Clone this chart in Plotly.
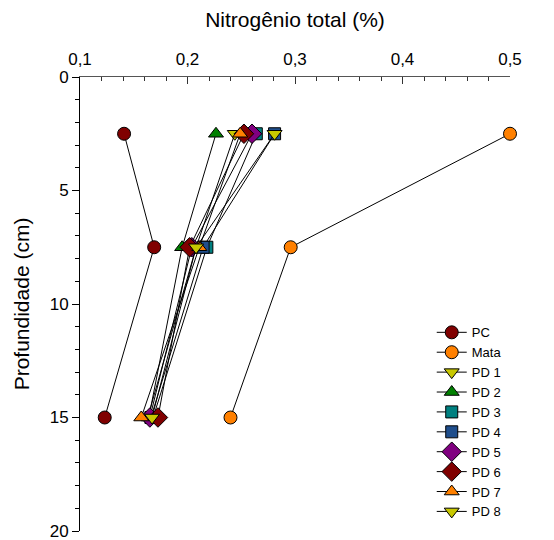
import plotly.graph_objects as go

# Soil depth of each sampling layer (cm)
depth = [2.5, 7.5, 15]

# Total nitrogen (%) per land-use system, by depth
names = ["PC", "Mata", "PD 1", "PD 2", "PD 3", "PD 4", "PD 5", "PD 6", "PD 7", "PD 8"]
pc = [0.141, 0.169, 0.123]
mata = [0.500, 0.296, 0.240]
pd1 = [0.244, 0.208, 0.163]
pd2 = [0.2265, 0.195, 0.164]
pd3 = [0.264, 0.218, 0.168]
pd4 = [0.281, 0.2145, 0.166]
pd5 = [0.260, 0.204, 0.165]
pd6 = [0.2525, 0.202, 0.1725]
pd7 = [0.249, 0.211, 0.157]
pd8 = [0.281, 0.208, 0.167]
values = [pc, mata, pd1, pd2, pd3, pd4, pd5, pd6, pd7, pd8]

symbols = ["circle", "circle", "triangle-down", "triangle-up", "square", "square",
           "diamond", "diamond", "triangle-up", "triangle-down"]
colors = ["#800000", "#FF8000", "#C8C800", "#008000", "#008080", "#1F4E8C",
          "#800080", "#800000", "#FF8000", "#C8C800"]
sizes = [13, 13, 13, 13, 12, 12, 15, 15, 13, 13]

fig = go.Figure()
for name, vals, sym, col, sz in zip(names, values, symbols, colors, sizes):
    fig.add_trace(go.Scatter(
        x=vals, y=depth, name=name, mode="lines+markers",
        line=dict(color="black", width=1),
        marker=dict(symbol=sym, size=sz, color=col,
                    line=dict(color="black", width=1)),
        cliponaxis=False,
    ))

font = "Liberation Sans, Arial, sans-serif"
fig.update_layout(
    width=554, height=540,
    margin=dict(l=80, r=44, t=77, b=9),
    paper_bgcolor="white", plot_bgcolor="white",
    font=dict(family=font, size=17, color="black"),
    showlegend=True,
    legend=dict(x=0.818, y=0.008, xanchor="left", yanchor="bottom",
                font=dict(size=13), bgcolor="rgba(0,0,0,0)",
                itemwidth=30),
    xaxis=dict(
        side="top", range=[0.1, 0.5], dtick=0.1, tick0=0.1,
        tickformat=".1f", automargin=False, ticklabeloverflow="allow",
        showline=True, linecolor="#555", linewidth=1, mirror=False,
        ticks="inside", ticklen=7, tickcolor="#333",
        ticklabelstandoff=4,
        minor=dict(dtick=0.02, ticks="inside", ticklen=4, tickcolor="#333"),
        showgrid=False, zeroline=False,
        title=dict(text="Nitrogênio total (%)", font=dict(size=21), standoff=16),
    ),
    yaxis=dict(
        range=[20, 0], dtick=5, tick0=0, automargin=False,
        ticklabeloverflow="allow",
        showline=True, linecolor="black", linewidth=1, mirror=False,
        ticks="outside", ticklen=7, tickcolor="black",
        minor=dict(dtick=1, ticks="outside", ticklen=4, tickcolor="black"),
        showgrid=False, zeroline=False,
        title=dict(text="Profundidade (cm)", font=dict(size=21), standoff=14),
    ),
    separators=",.",
)

fig.write_html("out.html")
